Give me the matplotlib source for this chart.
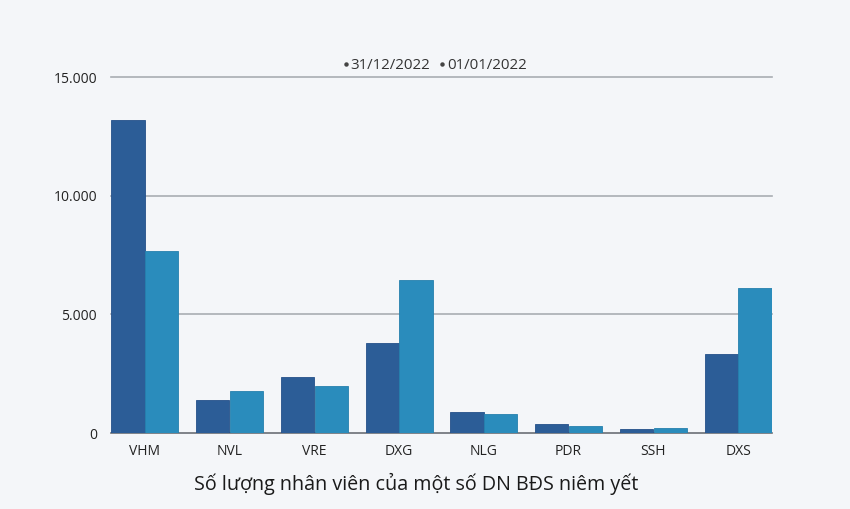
import matplotlib
matplotlib.use('Agg')
import matplotlib.pyplot as plt
from matplotlib.lines import Line2D
import numpy as np

plt.rcParams['font.family'] = ['Open Sans', 'DejaVu Sans']

companies = ['VHM', 'NVL', 'VRE', 'DXG', 'NLG', 'PDR', 'SSH', 'DXS']
staff_2022 = [13190, 1390, 2360, 3790, 885, 360, 170, 3330]
staff_2021 = [7670, 1770, 1980, 6450, 800, 316, 190, 6110]
series_names = ['31/12/2022', '01/01/2022']
y_ticks = [0, 5000, 10000, 15000]
y_tick_labels = ['0', '5.000', '10.000', '15.000']

dark = '#2c5d97'
light = '#2a8cbc'
bg = '#f4f6f9'

fig = plt.figure(figsize=(8.5, 5.09), dpi=100)
fig.patch.set_facecolor(bg)
ax = fig.add_axes([0.1306, 0.1493, 0.7776, 0.6994])
ax.set_facecolor(bg)

x = np.arange(len(companies))
w = 0.4
ax.bar(x - w / 2, staff_2022, w * 0.98, color=dark, edgecolor='#24508a', linewidth=0.6,
       zorder=3)
ax.bar(x + w / 2, staff_2021, w * 0.98, color=light, edgecolor='#2580ad', linewidth=0.6,
       zorder=3)

ax.set_xlim(-0.4, len(companies) - 0.6)
ax.set_ylim(0, 15000)
ax.set_xticks(x)
ax.set_xticklabels(companies, fontsize=10, color='#222222')
ax.set_yticks(y_ticks)
ax.set_yticklabels(y_tick_labels, fontsize=10, color='#222222')
ax.tick_params(length=0, pad=8)
ax.tick_params(axis='y', pad=10)

for v in y_ticks[1:]:
    ax.axhline(v, color='#a9adb3', linewidth=1.2, zorder=1, clip_on=False)

for s in ['top', 'right', 'left']:
    ax.spines[s].set_visible(False)
ax.spines['bottom'].set_color('#6b6f75')
ax.spines['bottom'].set_linewidth(1.2)

handles = [Line2D([], [], linestyle='none', marker='o', markersize=2.2, color='#444444'),
           Line2D([], [], linestyle='none', marker='o', markersize=2.2, color='#444444')]
ax.legend(handles, series_names, loc='lower center', bbox_to_anchor=(0.49, 0.972), ncol=2,
          frameon=False, fontsize=10.8, handlelength=0.4, handletextpad=0.1,
          columnspacing=0.6, labelcolor='#333333')

fig.text(0.49, 0.05, 'Số lượng nhân viên của một số DN BĐS niêm yết', ha='center',
         va='center', fontsize=14.2, color='#1a1a1a')

fig.savefig('out.png', dpi=100, facecolor=bg)
